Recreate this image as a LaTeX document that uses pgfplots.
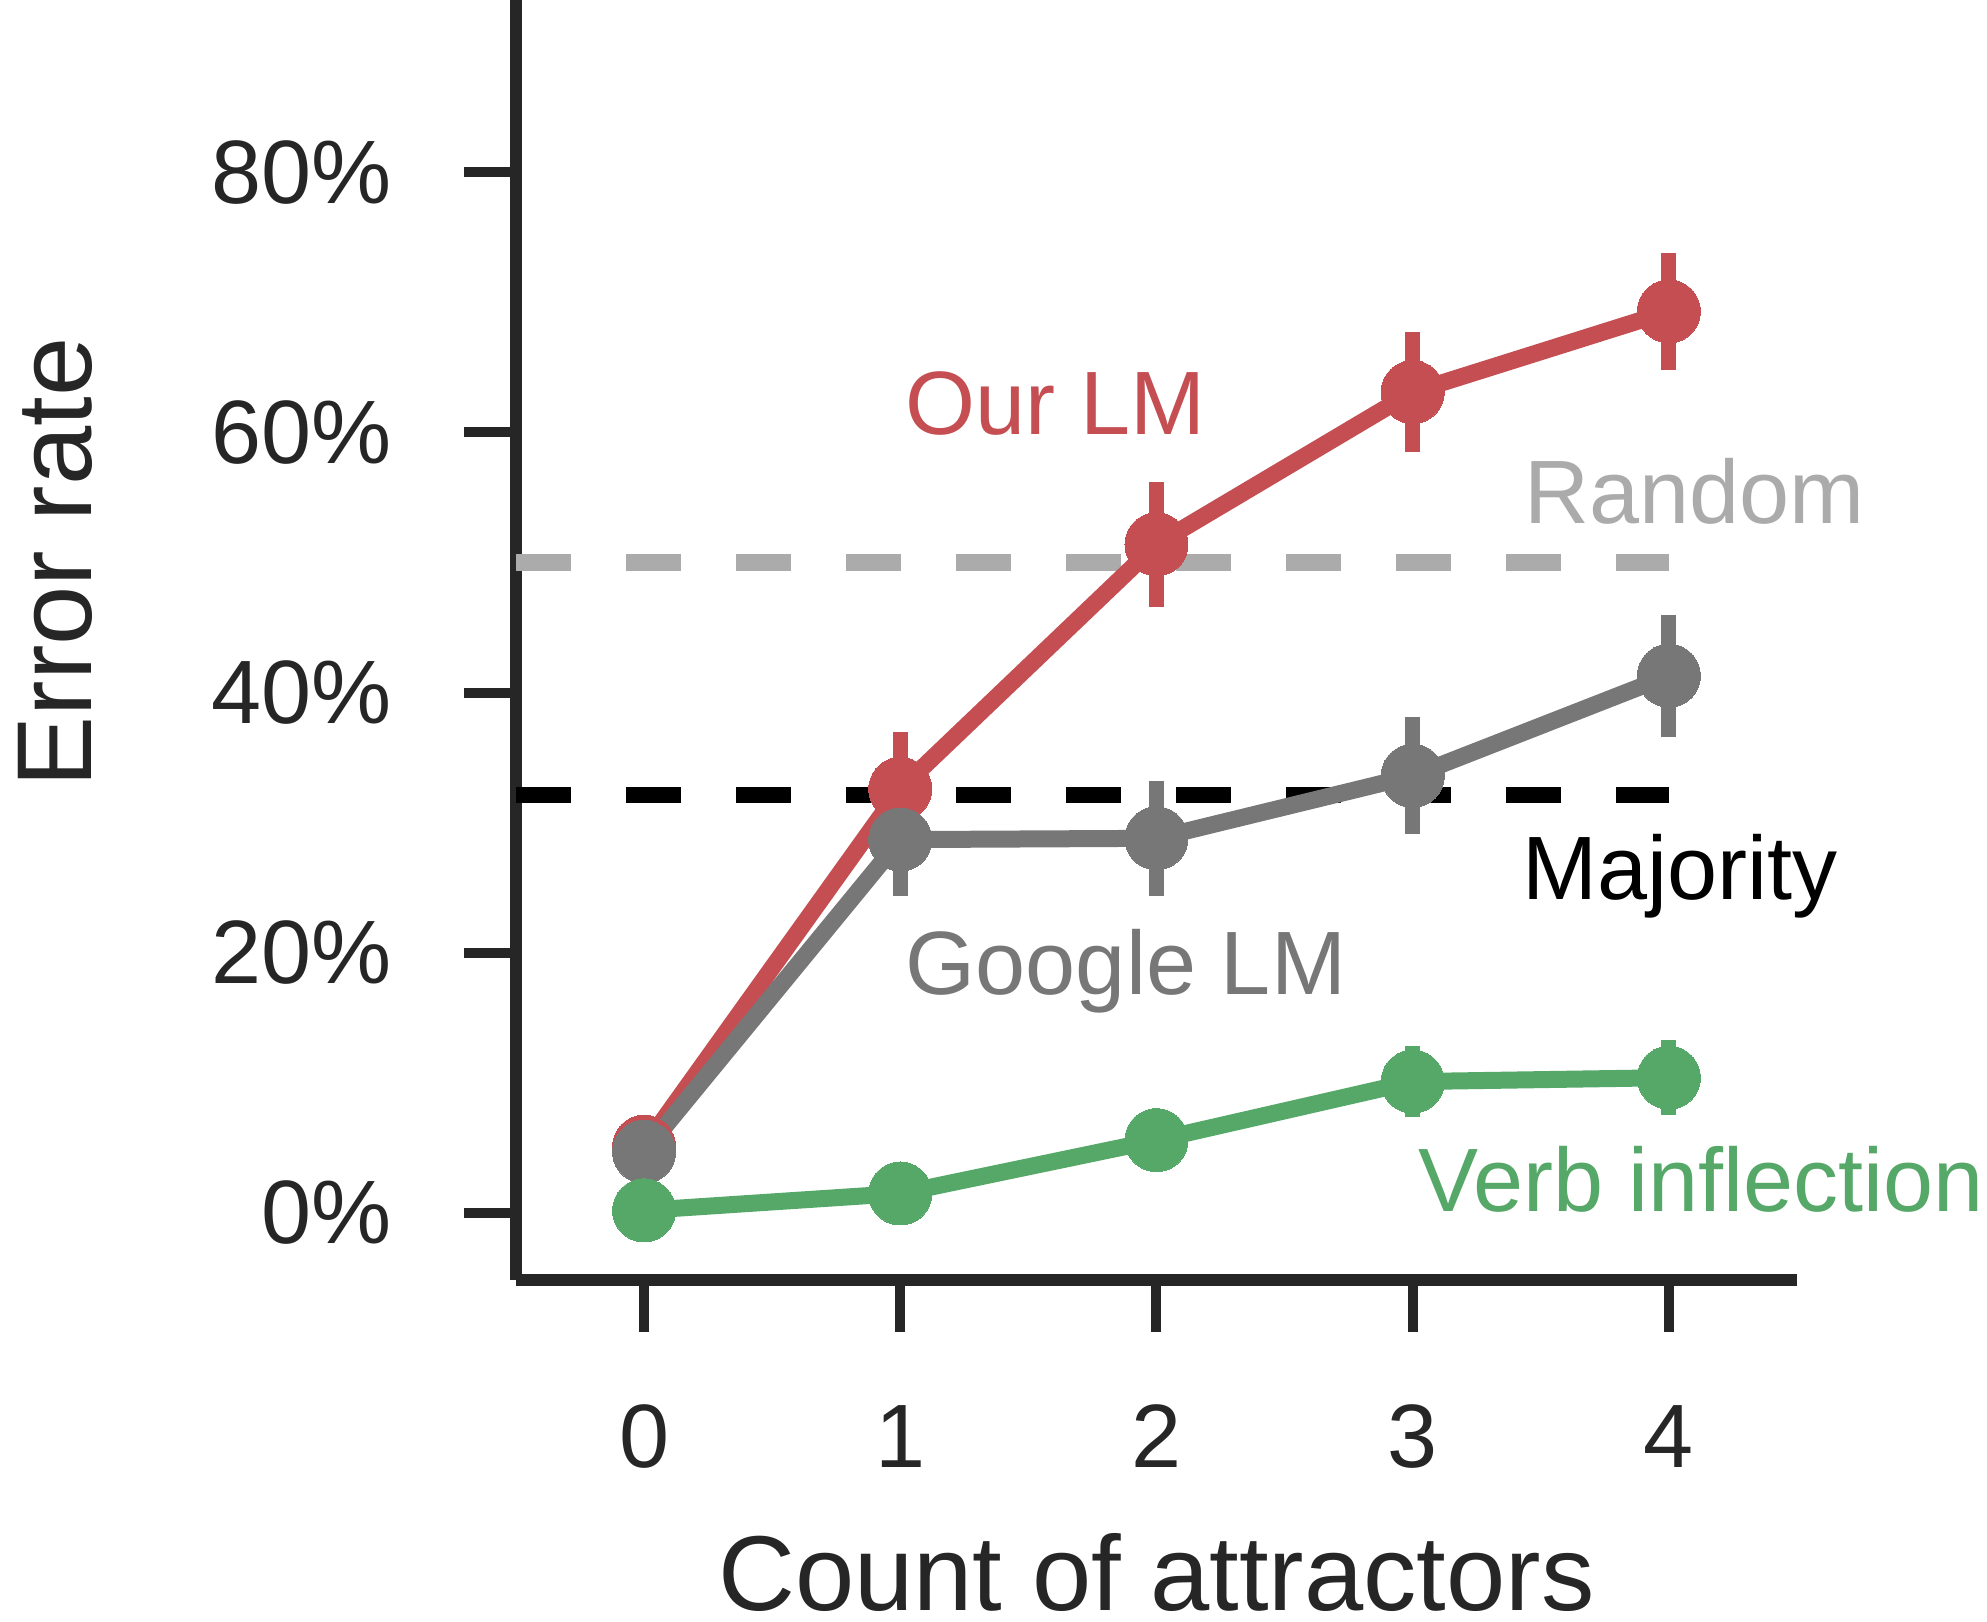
\documentclass[border=0pt]{standalone}
\usepackage{fontspec}
\setmainfont{Liberation Sans}
\usepackage{pgfplots}
\pgfplotsset{compat=1.18}
\definecolor{ourlm}{HTML}{C44E52}
\definecolor{googlm}{HTML}{777777}
\definecolor{verbinf}{HTML}{55A868}
\definecolor{randgray}{HTML}{ABABAB}
\definecolor{axgray}{HTML}{262626}
\newcommand{\tickfont}{\fontsize{18}{21}\selectfont}
\newcommand{\labfont}{\fontsize{21.3}{25}\selectfont}
\tikzset{
  series/.style={line width=3.4pt, mark=*, mark size=6.3pt,
                 mark options={solid, line width=0pt}},
  ann/.style={anchor=base west, inner sep=0pt, font=\tickfont}
}
\begin{document}
\begin{tikzpicture}
\begin{axis}[
  scale only axis, width=256.2pt, height=287pt,
  xmin=-0.5, xmax=4.5, ymin=-5.15, ymax=105.15,
  axis lines=left,
  axis line style={-, line width=2.4pt, color=axgray},
  xtick={0,1,2,3,4}, ytick={0,20,40,60,80},
  xticklabels={0,1,2,3,4},
  yticklabels={0\%,20\%,40\%,60\%,80\%},
  /pgf/number format/assume math mode=true,
  tick align=outside, major tick length=10.4pt,
  tick style={line width=2pt, color=axgray},
  ticklabel style={font=\tickfont, text=axgray, inner sep=0pt},
  xticklabel style={anchor=base, yshift=-27pt},
  yticklabel style={anchor=east, xshift=-14.2pt},
  xlabel={Count of attractors}, ylabel={Error rate},
  label style={font=\labfont, text=axgray, inner sep=0pt},
  xlabel style={at={(axis description cs:0.5,-0.2306)}, anchor=base},
  ylabel style={at={(axis description cs:-0.331,0.5)}, anchor=base},
  clip=false,
  error bars/y dir=both, error bars/y explicit, error bars/error mark=none,
]
% chance baselines
\addplot[randgray, line width=3.4pt, dash pattern=on 11pt off 11pt] coordinates {(-0.5,50) (4,50)};
\addplot[black, line width=3.2pt, dash pattern=on 11pt off 11pt] coordinates {(-0.5,32.1) (4,32.1)};

% our LM
\addplot[ourlm, series, error bars/error bar style={line width=3pt, ourlm}]
  table[x=x, y=y, y error=e] {
x y e
0 5.1 0.8
1 32.6 4.4
2 51.4 4.8
3 63.1 4.6
4 69.3 4.5
};
% google LM
\addplot[googlm, series, error bars/error bar style={line width=3pt, googlm}]
  table[x=x, y=y, y error=e] {
x y e
0 4.7 0.8
1 28.7 4.3
2 28.8 4.4
3 33.6 4.5
4 41.3 4.7
};
% verb inflection
\addplot[verbinf, series, error bars/error bar style={line width=3pt, verbinf}]
  table[x=x, y=y, y error=e] {
x y e
0 0.2 0.3
1 1.5 0.5
2 5.6 1.0
3 10.1 2.7
4 10.4 2.9
};

\node[ann, text=ourlm] at (axis cs:1.015,59.8) {Our LM};
\node[ann, text=randgray] at (axis cs:3.434,53.0) {Random};
\node[ann, text=black] at (axis cs:3.426,24.1) {Majority};
\node[ann, text=googlm] at (axis cs:1.018,16.8) {Google LM};
\node[ann, text=verbinf] at (axis cs:3.017,0.1) {Verb inflection};
\end{axis}
\pgfresetboundingbox
\useasboundingbox (-103.2pt,-68.4pt) rectangle (294.2pt,256pt);
\end{tikzpicture}
\end{document}
